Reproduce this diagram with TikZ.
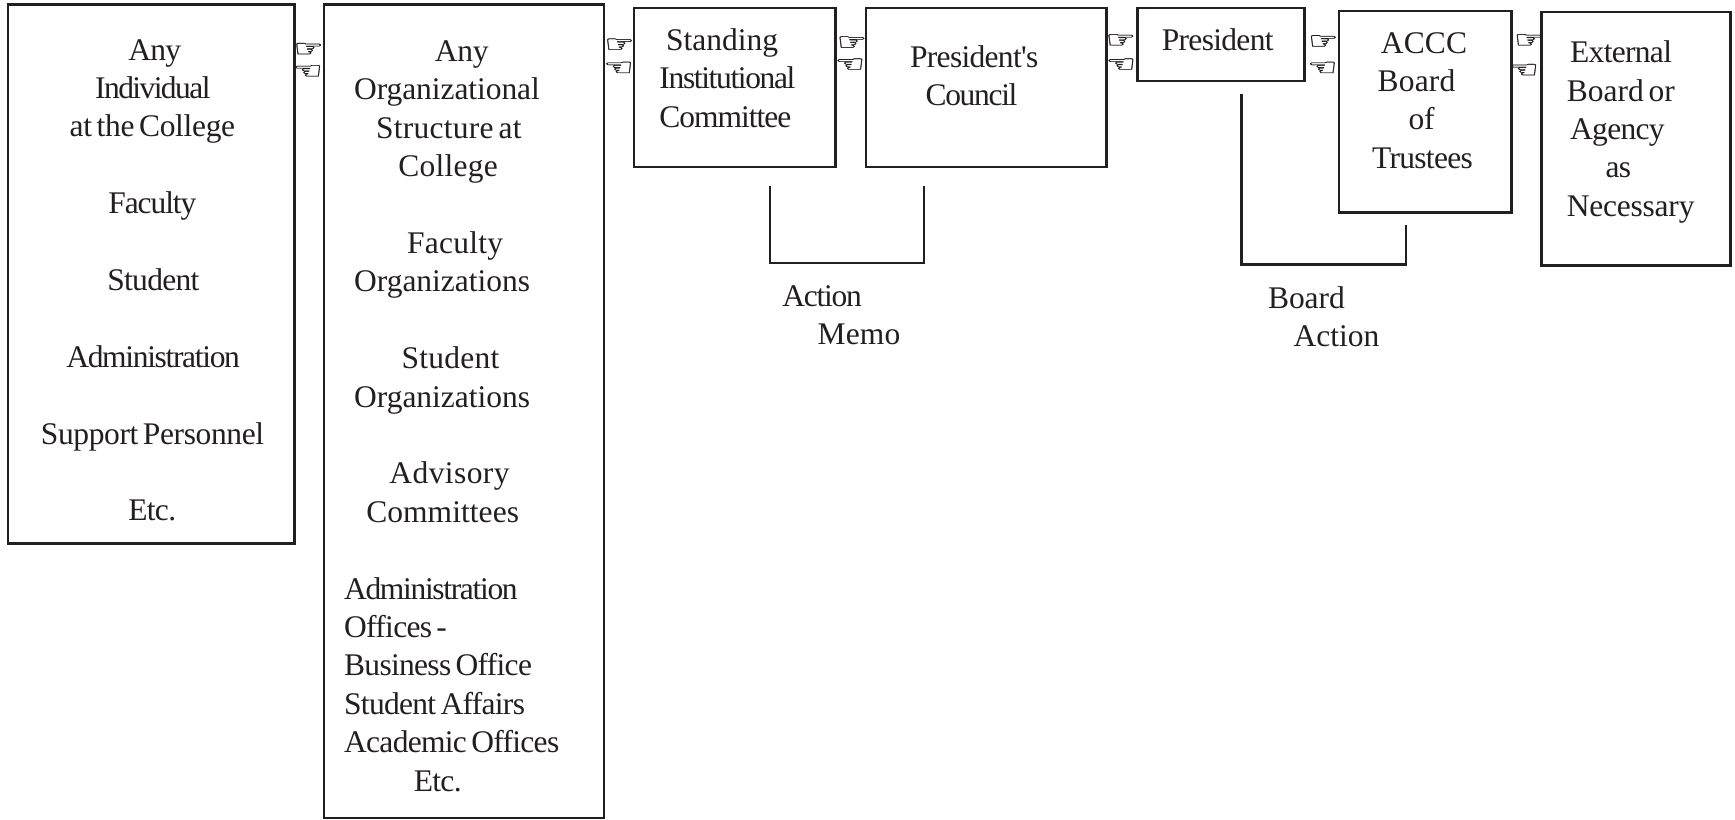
\documentclass[tikz,border=0pt]{standalone}
\usepackage{graphicx}
\usepackage{fontspec}
\newfontfamily\bodyf[WordSpace=0.6]{Liberation Serif}
\newfontfamily\handfont[FakeBold=0.8]{DejaVu Sans}
\definecolor{ink}{HTML}{231F20}
\newdimen\unitd \unitd=1.1065pt
\newcommand\Ln[3][-2.2]{\hspace*{#2\unitd}\rule{0pt}{24pt}{\addfontfeature{LetterSpace=#1}#3}\\}
\newcommand\Fill[4]{\parbox[t][#2\unitd][t]{#1\unitd}{\bodyf\fontsize{31.5pt}{38.4pt}\selectfont\raggedright\parindent=0pt\lineskiplimit=-100pt
\vspace*{\dimexpr#3\unitd-24pt\relax}#4}}
\newcommand\HandR{\scalebox{1.42}[1]{☞}}
\newcommand\HandL{\scalebox{1.42}[1]{☜}}
\tikzset{
  boxn/.style={draw=ink,line width=2.4pt,inner sep=0pt,outer sep=0pt,anchor=north west,text=ink},
  hand/.style={inner sep=0pt,outer sep=0pt,text=ink,font=\handfont\fontsize{24pt}{24pt}\selectfont},
  lab/.style={inner sep=0pt,outer sep=0pt,anchor=north west,text=ink},
  link/.style={draw=ink,line width=2.2pt}
}
\begin{document}
\begin{tikzpicture}[x=1.1065pt,y=-1.1065pt]
\useasboundingbox (0,0) rectangle (1568,740.2);
\node[boxn] (indiv) at (7,4) {\Fill{259}{487}{50.4}{%
\Ln{109}{Any}\Ln[-5]{79}{Individual}\Ln[-1]{56}{at the College}\Ln{0}{}\Ln[-3.5]{91}{Faculty}\Ln{0}{}\Ln{90}{Student}\Ln{0}{}\Ln[-4.2]{53}{Administration}\Ln{0}{}\Ln[-1.2]{30}{Support Personnel}\Ln{0}{}\Ln{109}{Etc.}}};
\node[boxn] (org) at (293,4) {\Fill{253}{735}{51.6}{%
\Ln[-1]{100}{Any}\Ln[-0.2]{27}{Organizational}\Ln[0.8]{47}{Structure at}\Ln[0.8]{67}{College}\Ln{0}{}\Ln[0.8]{75}{Faculty}\Ln[0]{27}{Organizations}\Ln{0}{}\Ln[0.8]{70}{Student}\Ln[0]{27}{Organizations}\Ln{0}{}\Ln[1.3]{59}{Advisory}\Ln[0.2]{38}{Committees}\Ln{0}{}\Ln[-4.2]{18}{Administration}\Ln{18}{Offices -}\Ln{18}{Business Office}\Ln{18}{Student Affairs}\Ln{18}{Academic Offices}\Ln{81}{Etc.}}};
\node[boxn] (comm) at (573,7) {\Fill{182}{144}{38.6}{\Ln[0]{29}{Standing}\Ln[-4.3]{23}{Institutional}\Ln[-3.2]{23}{Committee}}};
\node[boxn] (council) at (782.5,7) {\Fill{217.5}{144}{54}{\Ln{40}{President's}\Ln[-4.2]{54}{Council}}};
\node[boxn] (pres) at (1028,7) {\Fill{151}{66}{39}{\Ln{22}{President}}};
\node[boxn] (accc) at (1210,10) {\Fill{156}{182}{38}{\Ln[0.4]{38}{ACCC}\Ln[0.6]{35}{Board}\Ln[-1]{63}{of}\Ln{30}{Trustees}}};
\node[boxn] (ext) at (1393,11) {\Fill{171}{229}{45.6}{\Ln{26}{External}\Ln[0]{23}{Board or}\Ln{26}{Agency}\Ln{58}{as}\Ln[-0.7]{23}{Necessary}}};
% hands
\node[hand] (h1a) at (279,45) {\HandR};
\node[hand] (h1b) at (278,65) {\HandL};
\node[hand] (h2a) at (560,41) {\HandR};
\node[hand] (h2b) at (559,62) {\HandL};
\node[hand] (h3a) at (770,39) {\HandR};
\node[hand] (h3b) at (768,59) {\HandL};
\node[hand] (h4a) at (1013,37) {\HandR};
\node[hand] (h4b) at (1013,59) {\HandL};
\node[hand] (h5a) at (1196,38) {\HandR};
\node[hand] (h5b) at (1195,62) {\HandL};
\node[hand] (h6a) at (1382,37) {\HandR};
\node[hand] (h6b) at (1377,64) {\HandL};
% bracket connectors
\coordinate (memoL) at (696,168);
\coordinate (memoR) at (835,168);
\coordinate (actL) at (1122,85);
\coordinate (actR) at (1271,203);
\draw[link] (memoL) -- ++(0,69.5) -| (memoR);
\draw[link] (actL) -- ++(0,154) -| (actR);
% labels
\node[lab] (memo) at (707,251) {\Fill{150}{70}{26}{\Ln[-4]{0}{Action}\Ln[0.4]{32}{Memo}}};
\node[lab] (bact) at (1146,253) {\Fill{150}{70}{25.6}{\Ln[-0.2]{0}{Board}\Ln[0]{23}{Action}}};
\end{tikzpicture}
\end{document}
